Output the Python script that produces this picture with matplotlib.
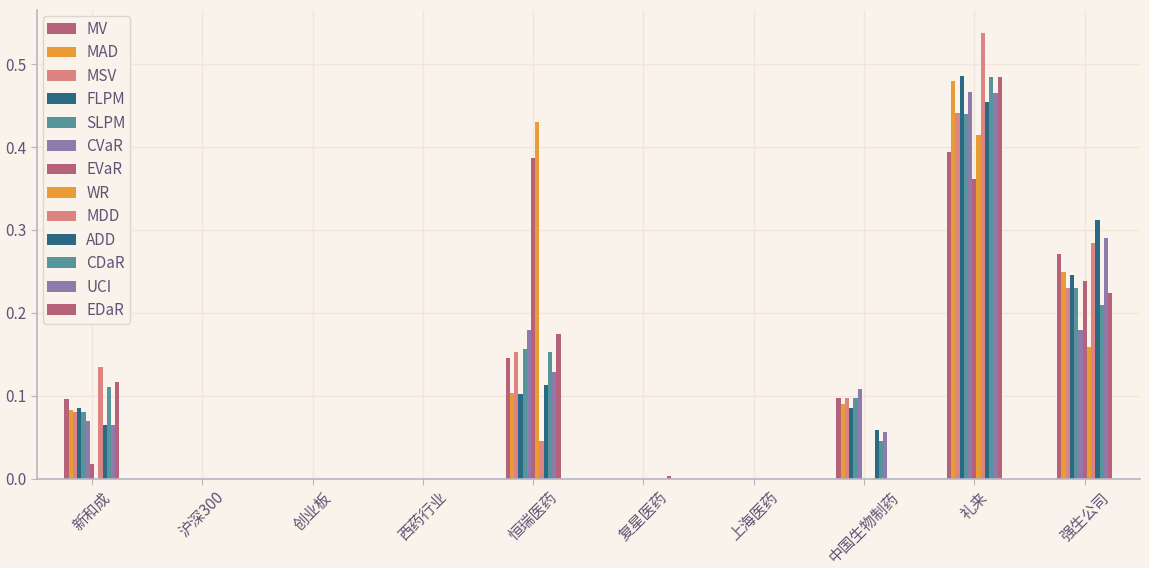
import numpy as np
import matplotlib
matplotlib.use("Agg")
import matplotlib.pyplot as plt

plt.rcParams['font.family'] = ['Noto Sans CJK SC', 'DejaVu Sans']

categories = ['新和成', '沪深300', '创业板', '西药行业', '恒瑞医药', '复星医药', '上海医药', '中国生物制药', '礼来', '强生公司']
series_names = ['MV', 'MAD', 'MSV', 'FLPM', 'SLPM', 'CVaR', 'EVaR', 'WR', 'MDD', 'ADD', 'CDaR', 'UCI', 'EDaR']

MV   = [0.096, 0, 0, 0, 0.146, 0, 0, 0.097, 0.394, 0.271]
MAD  = [0.083, 0, 0, 0, 0.103, 0, 0, 0.090, 0.479, 0.249]
MSV  = [0.080, 0, 0, 0, 0.153, 0, 0, 0.097, 0.441, 0.230]
FLPM = [0.085, 0, 0, 0, 0.102, 0, 0, 0.085, 0.486, 0.246]
SLPM = [0.080, 0, 0, 0, 0.156, 0, 0, 0.097, 0.440, 0.230]
CVaR = [0.070, 0, 0, 0, 0.179, 0, 0, 0.108, 0.466, 0.180]
EVaR = [0.018, 0, 0, 0, 0.387, 0, 0, 0.0, 0.361, 0.238]
WR   = [0.0, 0, 0, 0, 0.430, 0, 0, 0.0, 0.415, 0.159]
MDD  = [0.135, 0, 0, 0, 0.046, 0, 0, 0.0, 0.538, 0.284]
ADD  = [0.065, 0, 0, 0, 0.113, 0, 0, 0.059, 0.454, 0.312]
CDaR = [0.111, 0, 0, 0, 0.153, 0, 0, 0.045, 0.484, 0.210]
UCI  = [0.065, 0, 0, 0, 0.129, 0, 0, 0.056, 0.465, 0.290]
EDaR = [0.117, 0, 0, 0, 0.174, 0.004, 0, 0.0, 0.484, 0.224]

values = [MV, MAD, MSV, FLPM, SLPM, CVaR, EVaR, WR, MDD, ADD, CDaR, UCI, EDaR]

palette = ['#b5627a', '#e99c35', '#dc8482', '#2a6a85', '#56959c', '#8e7bab']
colors = [palette[i % len(palette)] for i in range(len(series_names))]

bg = '#faf3eb'
text_color = '#5b5676'
grid_color = '#f1e6da'
spine_color = '#b9b4c6'

fig = plt.figure(figsize=(11.49, 5.68), dpi=100, facecolor=bg)
ax = fig.add_axes([0.032, 0.157, 0.960, 0.825], facecolor=bg)

n = len(series_names)
total_w = 0.5
w = total_w / n
x = np.arange(len(categories))
for j, (name, vals) in enumerate(zip(series_names, values)):
    ax.bar(x - total_w / 2 + w * (j + 0.5), vals, width=w, color=colors[j], label=name)

ax.set_xlim(-0.5, len(categories) - 0.5)
ax.set_xticks(x)
ax.set_xticklabels(categories, rotation=45, color=text_color, fontsize=11)
ax.set_yticks([0.0, 0.1, 0.2, 0.3, 0.4, 0.5])
ax.set_yticklabels(['0.0', '0.1', '0.2', '0.3', '0.4', '0.5'], color=text_color, fontsize=11)
ax.tick_params(axis='both', colors=spine_color, labelcolor=text_color, length=4)
ax.grid(True, color=grid_color, linewidth=1)
ax.set_axisbelow(True)
for s in ['top', 'right']:
    ax.spines[s].set_visible(False)
for s in ['left', 'bottom']:
    ax.spines[s].set_color(spine_color)
    ax.spines[s].set_linewidth(1.2)

leg = ax.legend(loc='upper left', fontsize=11, labelspacing=0.42, handlelength=1.85,
                handletextpad=0.7, facecolor=bg, edgecolor='#dcd6d0', framealpha=1,
                borderpad=0.3, borderaxespad=0.4)
for t in leg.get_texts():
    t.set_color(text_color)

fig.savefig('out.png', dpi=100, facecolor=bg)
